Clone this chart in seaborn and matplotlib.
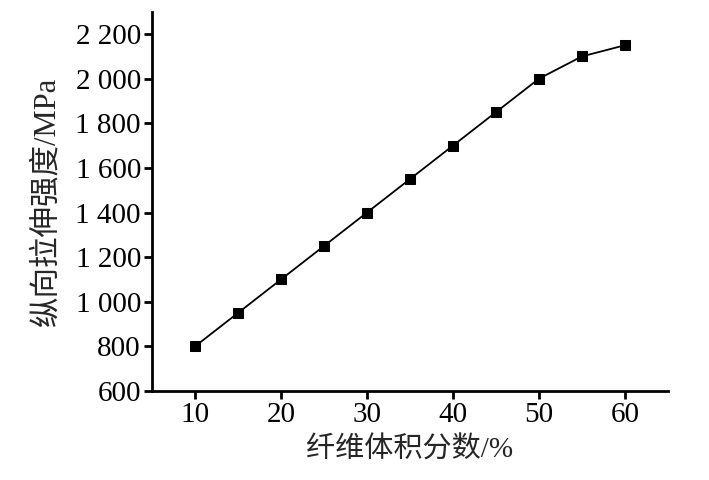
import pandas as pd
import matplotlib
matplotlib.use("Agg")
import matplotlib.pyplot as plt
import seaborn as sns

# Data
fiber_volume = [10, 15, 20, 25, 30, 35, 40, 45, 50, 55, 60]
tensile_strength = [800, 950, 1100, 1250, 1400, 1550, 1700, 1850, 2000, 2100, 2150]
y_ticks = [600, 800, 1000, 1200, 1400, 1600, 1800, 2000, 2200]
y_tick_labels = ["600", "800", "1 000", "1 200", "1 400", "1 600", "1 800", "2 000", "2 200"]
x_ticks = [10, 20, 30, 40, 50, 60]

df = pd.DataFrame({"x": fiber_volume, "y": tensile_strength})

sns.set_style("ticks")
plt.rcParams['font.family'] = ['Liberation Serif', 'Noto Sans CJK SC']

fig = plt.figure(figsize=(7.09, 4.8), dpi=100)
ax = fig.add_axes([0.2144, 0.1854, 0.7276, 0.79])

sns.lineplot(x="x", y="y", data=df, color="black", linewidth=1.3,
             marker="s", markersize=7, markeredgecolor="black", ax=ax)

ax.set_xlim(5, 65)
ax.set_ylim(600, 2300)
ax.set_xticks(x_ticks)
ax.set_yticks(y_ticks)
ax.set_yticklabels(y_tick_labels)
ax.tick_params(axis="both", direction="out", length=6, width=2, labelsize=21, colors="black", pad=2)

for side in ["top", "right"]:
    ax.spines[side].set_visible(False)
for side in ["left", "bottom"]:
    ax.spines[side].set_linewidth(2)
    ax.spines[side].set_color("black")

ax.set_xlabel("纤维体积分数/%", fontsize=21, labelpad=6)
ax.set_ylabel("纵向拉伸强度/MPa", fontsize=22, labelpad=10)

fig.savefig("out.png", dpi=100)
